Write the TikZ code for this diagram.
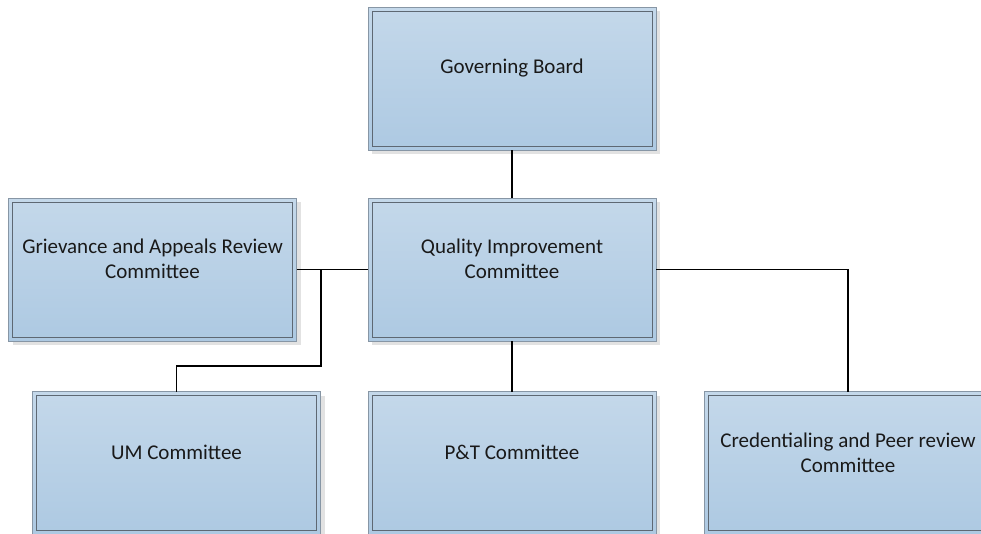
\documentclass[tikz,border=0pt]{standalone}
\usepackage{fontspec}
\setmainfont{Carlito}
\usetikzlibrary{shadows}
\definecolor{boxtop}{HTML}{C4D8EA}
\definecolor{boxbot}{HTML}{ADC9E2}
\definecolor{outerline}{HTML}{8796A5}
\definecolor{innerline}{HTML}{5E6873}
\definecolor{shadowc}{HTML}{E2E2E2}
\tikzset{
  orgbox/.style={draw=outerline, line width=0.9pt, top color=boxtop, bottom color=boxbot,
    minimum width=288pt, minimum height=143pt, inner sep=0pt, outer sep=0pt,
    drop shadow={shadow xshift=4pt, shadow yshift=-4pt, fill=shadowc, opacity=1}},
  innerrect/.style={draw=innerline, line width=0.9pt},
  orgtext/.style={font=\fontsize{21}{25}\selectfont, align=center, text=black!90},
  conn/.style={draw=black, line width=1.8pt}
}
\newcommand{\orgbox}[3]{%
  \node[orgbox] (#1) at (#2) {};
  \draw[innerrect] ([shift={(4pt,-4pt)}]#1.north west) rectangle ([shift={(-4pt,4pt)}]#1.south east);
  \node[orgtext] (#1t) at ([yshift=-61pt]#1.north) {#3};
}
\begin{document}
\begin{tikzpicture}[x=1pt,y=-1pt]
\useasboundingbox (0,0) rectangle (981,533);
\orgbox{gb}{512,78.5}{Governing Board}
\orgbox{qi}{512,269.5}{Quality Improvement\\Committee}
\orgbox{gr}{152.5,269.5}{Grievance and Appeals Review\\Committee}
\orgbox{um}{176.5,463}{UM Committee}
\orgbox{pt}{512,463}{P\&T Committee}
\orgbox{cr}{848,463}{Credentialing and Peer review\\Committee}
\coordinate (j) at (321,269.5);
\coordinate (jd) at (321,366);
\draw[conn] (gb.south) -- (qi.north);
\draw[conn] (gr.east) -- (qi.west);
\draw[conn] (j) -- (jd) -| (um.north);
\draw[conn] (qi.south) -- (pt.north);
\draw[conn] (qi.east) -| (cr.north);
\end{tikzpicture}
\end{document}
